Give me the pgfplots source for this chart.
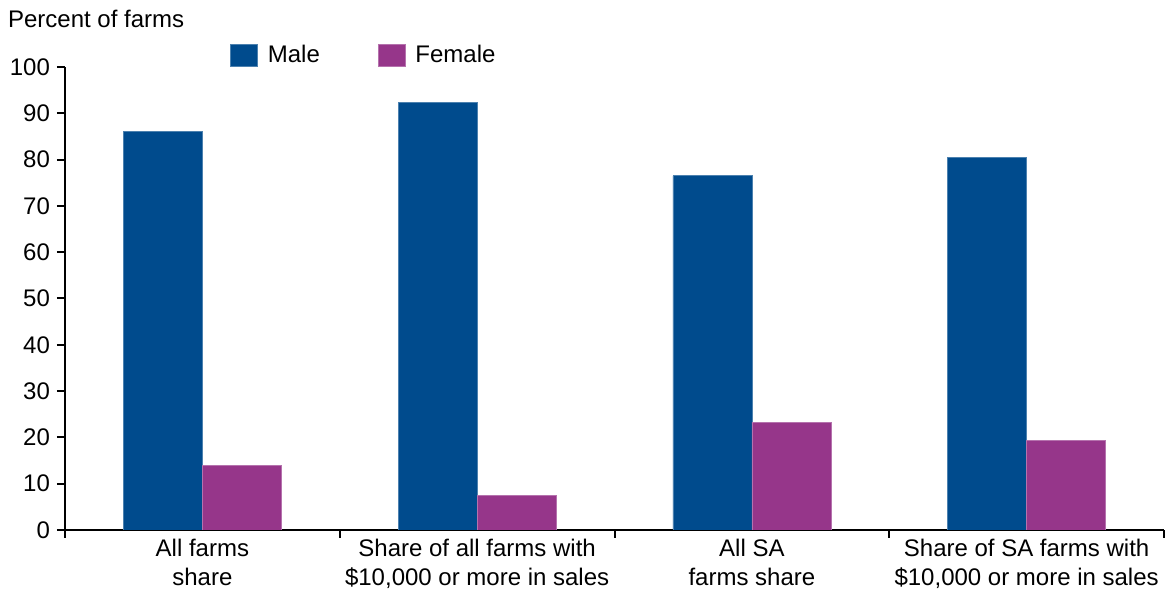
\documentclass[border=0pt]{standalone}
\usepackage{fontspec}
\setmainfont{Liberation Sans}
\usepackage{pgfplots}
\pgfplotsset{compat=1.18}

\definecolor{maleblue}{RGB}{0,75,141}
\definecolor{femalepurple}{RGB}{150,54,138}

\pgfplotsset{
  boxleg/.style={legend image code/.code={\fill[##1] (0pt,-5.5pt) rectangle (13.5pt,5.5pt);}},
}

\begin{document}
\begin{tikzpicture}
\begin{axis}[
  at={(0,0)}, anchor=south west,
  scale only axis,
  width=549.5pt, height=231.5pt,
  ybar=0pt, bar width=39.5pt,
  xmin=-0.5, xmax=3.5,
  ymin=0, ymax=100,
  ytick={0,10,...,100},
  xtick={-0.5,0.5,1.5,2.5,3.5},
  xticklabels={},
  extra x ticks={0,1,2,3},
  extra x tick labels={{All farms\\share},
               {Share of all farms with\\\$10,000 or more in sales},
               {All SA\\farms share},
               {Share of SA farms with\\\$10,000 or more in sales}},
  extra x tick style={major tick length=0pt,
    tick label style={align=center, font=\fontsize{12}{14.5}\selectfont, yshift=-1pt}},
  y tick label style={font=\fontsize{12}{14}\selectfont},
  /pgf/number format/assume math mode=true,
  tick align=outside,
  major tick length=4pt,
  tick style={line width=1pt, black},
  axis x line*=bottom,
  axis y line*=left,
  axis line style={line width=1pt},
  title={Percent of farms},
  title style={at={(axis description cs:0,1)}, anchor=west, xshift=-32pt, yshift=18pt,
               font=\fontsize{12}{14}\selectfont},
  legend columns=2,
  legend style={draw=none, fill=none, inner sep=0pt,
                at={(axis description cs:0.15,1.025)}, anchor=west,
                font=\fontsize{12}{14}\selectfont,
                /tikz/every odd column/.append style={column sep=3pt},
                /tikz/every even column/.append style={column sep=27pt}},
]
\addplot[fill=maleblue, draw=maleblue!70!white, line width=0.3pt, boxleg]
  coordinates {(0,86.1) (1,92.3) (2,76.5) (3,80.5)};
\addplot[fill=femalepurple, draw=femalepurple!70!white, line width=0.3pt, boxleg]
  coordinates {(0,13.9) (1,7.5) (2,23.3) (3,19.3)};
\legend{Male,Female}
\end{axis}
\pgfresetboundingbox
\path (-32.5pt,-31pt) rectangle (550.5pt,265pt);
\end{tikzpicture}
\end{document}
